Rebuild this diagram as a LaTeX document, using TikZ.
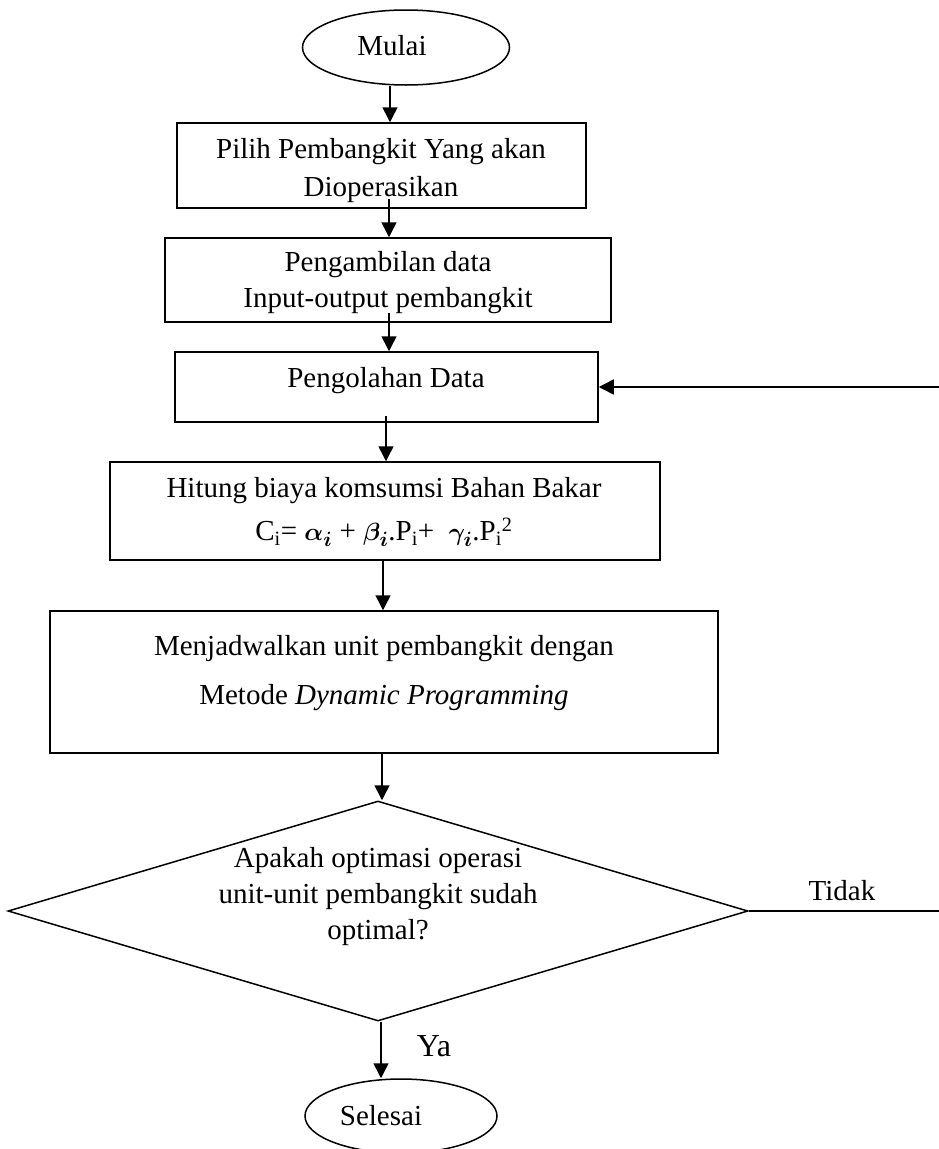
\documentclass[tikz,border=0pt]{standalone}
\usepackage{amsmath}
\usepackage{fontspec}
\setmainfont{Liberation Serif}
\usetikzlibrary{arrows.meta,shapes.geometric,calc}
\begin{document}
\begin{tikzpicture}[x=1pt,y=-1pt,
  every node/.style={font=\fontsize{29}{36}\selectfont},
  box/.style={draw,line width=1.5pt,rectangle,inner sep=0pt},
  term/.style={draw,line width=1.5pt,ellipse,inner sep=0pt},
  dec/.style={draw,line width=1.5pt,diamond,inner sep=0pt},
  txt/.style={align=center,inner sep=0pt},
  arr/.style={line width=1.5pt,-{Triangle[length=15pt,width=15pt]}},
  ln/.style={line width=1.5pt}]
\useasboundingbox (0,0) rectangle (939,1149);

% shapes
\node[term,minimum width=207pt,minimum height=75pt] (mulai) at (406,47.5) {};
\node[txt] (tmulai) at (392,46) {Mulai};

\node[box,minimum width=409pt,minimum height=85pt] (box1) at (381.5,165.5) {};
\node[txt] (t1) at (381,171) {Pilih Pembangkit Yang akan\\[2pt]Dioperasikan};

\node[box,minimum width=446pt,minimum height=84pt] (box2) at (388,280) {};
\node[txt] (t2) at (388,283) {Pengambilan data\\Input-output pembangkit};

\node[box,minimum width=423pt,minimum height=70pt] (box3) at (386.5,387) {};
\node[txt] (t3) at (386,381) {Pengolahan Data};

\node[box,minimum width=550pt,minimum height=98pt] (box4) at (385,511) {};
\node[txt] (t4) at (384,512) {Hitung biaya komsumsi Bahan Bakar\\[7pt]
  C\textsubscript{i}= $\boldsymbol{\alpha_{i}}$ + $\boldsymbol{\beta_{i}}$.P\textsubscript{i}+ ~$\boldsymbol{\gamma_{i}}$.P\textsubscript{i}\textsuperscript{2}};

\node[box,minimum width=668pt,minimum height=142pt] (box5) at (384,682) {};
\node[txt] (t5) at (384,673) {Menjadwalkan unit pembangkit dengan\\[13pt]Metode \textit{Dynamic Programming}};

\node[dec,minimum width=740pt,minimum height=220pt] (dec) at (378,911) {};
\node[txt] (t6) at (378,897) {Apakah optimasi operasi\\unit-unit pembangkit sudah\\optimal?};

\node[term,minimum width=192pt,minimum height=74pt] (selesai) at (401,1116) {};
\node[txt] (tselesai) at (381,1116) {Selesai};

\node[txt] (tidak) at (842,891) {Tidak};
\node[txt,font=\fontsize{32}{38}\selectfont] (ya) at (434,1046) {Ya};

% column coordinates
\coordinate (c1) at (390,0);
\coordinate (c2) at (389,0);
\coordinate (c3) at (389,0);
\coordinate (c4) at (386,0);
\coordinate (c5) at (383,0);
\coordinate (c6) at (382,0);
\coordinate (c7) at (381,0);
\coordinate (fb) at (943,0);

% connectors
\draw[arr] (c1 |- mulai.south) -- (c1 |- box1.north);
\draw[arr] ([yshift=10pt]c2 |- box1.south) -- (c2 |- box2.north);
\draw[arr] ([yshift=10pt]c3 |- box2.south) -- (c3 |- box3.north);
\draw[arr] ([yshift=7pt]c4 |- box3.south) -- (c4 |- box4.north);
\draw[arr] (c5 |- box4.south) -- (c5 |- box5.north);
\draw[arr] (c6 |- box5.south) -- (c6 |- dec.north);
\draw[arr] (c7 |- dec.south) -- (c7 |- selesai.north);
\draw[arr] (dec.east) -- (fb |- dec.east) -- (fb |- box3.east) -- (box3.east);
\end{tikzpicture}
\end{document}
